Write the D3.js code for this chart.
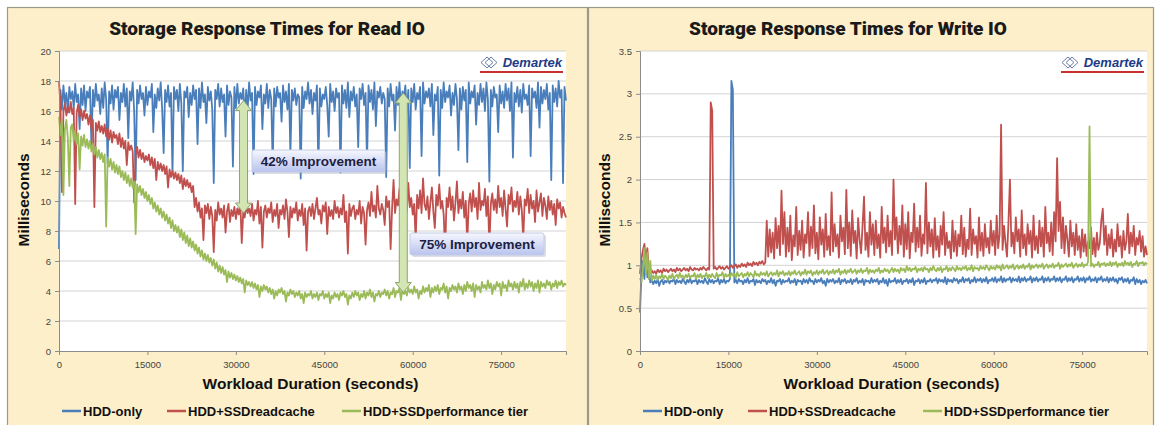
<!DOCTYPE html>
<html>
<head>
<meta charset="utf-8">
<script src="https://cdn.jsdelivr.net/npm/d3@7"></script>
<style>
  body { margin: 0; background: #fff; }
  svg { display: block; font-family: "Liberation Sans", Arial, sans-serif; }
</style>
</head>
<body>
<svg id="chart" width="1159" height="425"></svg>
<script>
// samples are taken every 250 seconds over the 24h run
const sampleStep = 250;
const seriesNames = ["HDD-only", "HDD+SSDreadcache", "HDD+SSDperformance tier"];
const seriesColors = ["#4a7ebb", "#c0504d", "#9bbb59"];
const xTicks = [0, 15000, 30000, 45000, 60000, 75000];
const readTicks = [0, 2, 4, 6, 8, 10, 12, 14, 16, 18, 20];
const writeTicks = [0, 0.5, 1, 1.5, 2, 2.5, 3, 3.5];

// Read IO response times (ms)
const readHdd = [
  6.8,17.4,16.1,17.7,16.5,17.2,15.9,17.6,16.8,17.3,
  16.2,17.8,16.6,17.1,14.8,17.5,16.4,17.7,16.0,17.3,
  16.9,17.6,13.6,17.4,16.3,17.8,16.7,17.1,15.8,17.5,
  16.2,17.9,16.8,12.5,17.3,16.5,17.7,16.1,17.4,16.9,
  17.6,15.4,17.2,16.6,17.8,16.3,17.5,14.2,17.3,16.7,
  17.9,16.0,11.4,17.4,16.5,17.7,16.8,17.2,15.7,17.6,
  16.4,17.3,16.9,17.8,14.6,17.1,16.2,17.5,16.7,17.9,
  16.1,13.2,17.4,16.6,17.7,16.3,17.2,11.8,17.6,16.8,
  17.4,16.0,17.8,16.5,12.0,17.3,16.9,17.6,15.6,17.2,
  16.4,17.7,16.8,17.4,13.8,17.5,16.2,17.9,16.6,17.1,
  15.2,17.6,16.7,17.3,16.1,11.2,17.4,16.8,17.8,16.3,
  17.5,16.6,17.1,14.3,17.7,16.4,17.3,16.9,12.3,17.6,
  16.2,17.8,16.5,17.2,16.8,17.5,15.5,17.4,16.1,17.9,
  16.7,17.2,11.8,17.6,16.4,17.3,16.9,17.7,14.8,17.1,
  16.5,17.8,16.2,17.4,16.8,12.4,17.5,16.3,17.6,16.9,
  17.2,15.3,17.7,16.6,17.3,16.1,17.8,13.1,17.4,16.7,
  17.5,16.4,17.1,16.9,11.5,17.6,16.2,17.3,16.8,17.9,
  16.5,17.4,15.8,17.2,16.7,17.7,12.1,17.5,16.3,17.1,
  16.8,17.6,16.4,14.3,17.8,16.6,17.3,16.0,17.5,16.9,
  17.2,11.9,17.7,16.5,17.4,16.2,17.9,15.6,17.3,16.7,
  17.6,16.3,17.1,13.6,17.5,16.8,17.8,16.4,17.2,12.5,
  17.7,16.6,17.4,16.1,17.9,15.0,17.3,16.9,17.6,16.5,
  17.2,16.8,11.6,17.5,16.3,17.8,16.7,17.1,14.7,17.6,
  16.4,17.9,16.2,17.3,16.9,17.7,15.9,17.4,12.2,17.5,
  16.6,17.8,16.1,17.2,16.8,17.6,13.0,17.9,16.5,17.3,
  16.9,17.5,16.3,17.8,14.4,17.1,16.7,17.6,11.7,17.4,
  16.2,17.9,16.6,17.3,16.9,17.7,15.7,17.2,16.4,17.8,
  16.8,13.4,17.5,16.1,17.6,16.7,17.4,12.6,17.9,16.5,
  17.3,16.9,17.7,15.1,17.2,16.4,17.8,16.6,17.5,16.0,
  17.9,16.8,11.3,17.4,16.3,17.6,16.9,17.1,14.6,17.7,
  16.5,17.3,16.2,17.8,16.7,17.5,16.0,17.9,12.9,17.2,
  16.6,17.6,16.3,17.4,15.9,17.8,16.8,17.1,16.4,17.7,
  13.0,17.5,16.9,17.3,16.2,17.9,14.9,17.6,16.5,17.4,
  16.8,17.8,16.1,17.2,11.4,17.7,16.6,17.5,16.3,18.0,
  16.9,17.4,11.2,17.6,16.7
];
const readCache = [
  18.0,16.4,10.6,16.0,16.5,15.7,16.3,15.9,16.6,15.8,
  16.2,9.8,15.9,16.4,15.6,16.1,15.4,16.0,15.5,15.8,
  15.1,15.7,14.8,15.4,9.6,15.2,14.7,15.3,14.6,15.0,
  14.5,15.1,14.3,14.9,14.1,14.7,13.9,14.6,14.2,14.4,
  13.8,14.5,13.6,14.2,13.5,14.0,12.4,13.9,13.4,13.7,
  13.3,9.9,13.1,13.6,12.9,13.4,12.8,13.2,12.6,13.0,
  12.7,13.1,12.4,12.9,12.2,12.8,11.4,12.6,12.1,12.5,
  12.0,12.4,11.8,12.3,10.9,12.1,11.6,12.0,11.5,11.9,
  11.4,11.8,11.2,11.7,10.8,11.5,11.0,11.4,10.9,11.2,
  10.6,11.0,9.6,10.2,9.3,9.9,8.9,9.5,7.4,9.7,
  9.2,9.8,8.8,9.6,9.0,6.6,9.4,8.7,9.9,9.1,
  9.5,8.9,9.7,7.9,9.3,9.8,8.6,9.4,9.0,9.6,
  8.8,9.5,9.1,9.9,7.2,9.3,8.9,9.7,9.2,9.5,
  9.0,9.8,8.7,9.4,9.1,10.0,8.5,9.6,6.9,9.3,
  9.7,8.9,9.5,9.2,9.9,8.6,9.4,9.0,9.8,8.2,
  9.4,9.1,9.7,8.8,10.1,9.3,7.6,9.6,8.9,9.5,
  9.2,9.9,8.7,9.4,9.0,9.8,8.4,9.5,6.7,9.3,
  9.6,9.0,9.8,8.8,9.5,10.2,9.1,9.4,8.5,9.7,
  9.3,9.9,7.8,9.6,9.0,9.4,8.8,10.0,9.2,9.6,
  8.9,9.5,9.1,10.4,8.6,9.3,6.5,9.8,9.0,9.5,
  9.7,8.8,9.4,9.1,10.0,8.5,9.6,9.2,7.1,9.4,
  9.9,9.0,10.6,9.3,9.7,8.9,11.0,9.5,9.1,9.8,
  9.4,8.4,10.3,9.6,10.0,6.8,9.5,11.4,9.2,10.1,
  9.7,10.8,9.0,9.9,8.9,10.5,9.3,11.2,9.6,10.2,
  9.1,9.8,7.4,10.4,9.5,10.7,9.2,11.5,9.8,9.4,
  10.3,8.8,9.9,10.9,9.3,8.2,10.4,9.7,11.1,9.5,
  10.0,9.1,6.6,10.2,9.6,10.9,9.4,10.3,8.7,9.9,
  11.3,9.2,10.1,9.5,10.6,8.9,10.0,7.2,9.8,10.5,
  9.3,10.7,9.6,10.2,8.8,11.2,9.4,10.0,9.7,10.8,
  9.0,10.3,6.9,9.8,10.5,9.4,10.1,9.2,11.0,9.6,
  10.2,9.0,10.7,9.5,8.3,10.4,9.8,10.9,9.3,10.0,
  9.6,10.6,9.1,10.3,9.4,7.5,10.1,9.7,10.8,9.2,
  10.4,9.5,10.0,8.6,10.7,9.3,9.9,10.5,9.0,10.2,
  9.7,8.8,10.3,9.4,10.0,9.1,9.8,8.4,10.1,9.5,
  9.9,8.9,9.6,9.2,8.9
];
const readTier = [
  15.6,14.4,15.3,10.4,14.8,15.4,14.2,11.0,14.9,15.1,
  14.0,14.7,13.8,14.5,12.1,14.3,13.7,14.4,13.6,14.1,
  13.5,14.0,13.3,13.8,13.1,13.6,12.9,13.4,12.8,13.2,
  12.6,13.1,8.3,12.9,12.3,12.8,12.1,12.6,11.9,12.4,
  11.8,12.3,11.6,12.0,11.4,11.9,11.2,11.7,11.0,11.5,
  10.9,11.3,7.8,11.1,10.6,11.0,10.4,10.8,10.2,10.6,
  10.0,10.4,9.8,10.2,9.5,9.9,9.3,9.7,9.1,9.5,
  8.9,9.3,8.7,9.1,8.5,8.9,8.2,8.7,8.0,8.4,
  7.9,8.3,7.6,8.1,7.4,7.9,7.2,7.7,7.0,7.5,
  6.9,7.3,6.7,7.1,6.5,6.9,6.3,6.7,6.1,6.5,
  6.0,6.4,5.9,6.2,5.7,6.1,5.5,5.9,5.3,5.7,
  5.2,5.6,5.1,5.4,4.6,5.3,4.9,5.2,4.8,5.1,
  4.7,5.0,4.6,4.9,4.5,4.8,3.9,4.7,4.4,4.6,
  4.3,4.6,4.2,4.5,4.1,4.4,3.6,4.3,4.0,4.4,
  4.1,4.3,3.9,4.2,3.8,4.1,3.5,4.0,3.7,4.1,
  3.9,4.2,3.8,4.0,3.3,3.9,3.7,4.1,3.8,4.0,
  3.6,3.9,3.7,4.0,3.5,3.8,3.2,3.9,3.6,3.8,
  3.7,4.0,3.5,3.8,3.6,3.9,3.4,3.8,3.7,4.0,
  3.5,3.8,3.6,3.9,3.2,3.7,3.5,3.9,3.6,3.8,
  3.4,3.9,3.7,4.0,3.6,3.8,3.1,3.7,3.5,3.9,
  3.6,4.0,3.7,3.9,3.4,3.8,3.6,4.0,3.5,3.9,
  3.7,4.1,3.6,3.9,3.3,3.8,3.7,4.0,3.6,3.9,
  3.8,4.1,3.7,4.0,3.5,3.9,3.8,4.2,3.6,4.0,
  3.9,4.2,3.4,4.1,3.8,4.0,3.7,4.2,3.9,4.1,
  3.8,4.3,3.9,4.1,3.5,4.0,3.8,4.3,3.9,4.2,
  4.0,4.4,3.6,4.2,3.9,4.3,4.0,4.4,3.8,4.2,
  4.1,4.5,3.9,4.3,3.5,4.2,4.0,4.4,4.1,4.3,
  3.9,4.5,4.1,4.3,3.8,4.4,4.0,4.6,4.2,4.4,
  4.0,4.5,3.6,4.4,4.1,4.3,3.9,4.6,4.2,4.4,
  4.1,4.7,4.2,4.5,3.8,4.4,4.1,4.6,4.3,4.5,
  3.7,4.6,4.2,4.4,4.0,4.7,4.3,4.5,4.1,4.6,
  4.2,4.5,3.9,4.6,4.3,4.8,4.1,4.5,4.2,4.7,
  4.3,4.6,4.0,4.5,4.2,4.7,3.9,4.6,4.3,4.5,
  4.2,4.7,4.4,4.6,4.1,4.5,4.3,4.7,4.2,4.6,
  4.4,4.7,4.3,4.5,4.4
];

// Write IO response times (ms)
const writeHdd = [
  0.45,0.92,1.05,0.84,1.10,0.86,0.95,0.80,0.83,0.78,
  0.82,0.79,0.84,0.76,0.81,0.83,0.78,0.82,0.80,0.84,
  0.79,0.82,0.81,0.85,0.78,0.83,0.80,0.82,0.79,0.84,
  0.81,0.78,0.83,0.80,0.85,0.79,0.82,0.81,0.84,0.78,
  0.83,0.80,0.82,0.79,0.85,0.81,0.78,0.84,0.80,0.83,
  0.79,0.82,0.81,0.85,0.78,0.83,0.80,0.84,0.79,0.82,
  0.81,0.84,3.15,3.05,0.80,0.83,0.79,0.84,0.81,0.82,
  0.78,0.83,0.80,0.85,0.79,0.82,0.81,0.84,0.77,0.83,
  0.80,0.82,0.79,0.84,0.81,0.83,0.78,0.82,0.80,0.85,
  0.79,0.83,0.76,0.82,0.81,0.84,0.78,0.83,0.80,0.82,
  0.81,0.85,0.79,0.82,0.80,0.84,0.77,0.83,0.81,0.82,
  0.78,0.84,0.80,0.83,0.79,0.85,0.81,0.82,0.78,0.84,
  0.80,0.83,0.81,0.85,0.79,0.82,0.76,0.84,0.80,0.83,
  0.81,0.84,0.79,0.82,0.80,0.85,0.78,0.83,0.81,0.84,
  0.79,0.82,0.80,0.84,0.78,0.83,0.81,0.85,0.79,0.82,
  0.80,0.84,0.77,0.83,0.81,0.82,0.79,0.85,0.80,0.83,
  0.81,0.84,0.78,0.82,0.80,0.85,0.79,0.83,0.76,0.84,
  0.80,0.82,0.81,0.85,0.79,0.83,0.80,0.84,0.78,0.82,
  0.81,0.84,0.79,0.83,0.80,0.85,0.77,0.82,0.81,0.84,
  0.79,0.83,0.80,0.85,0.78,0.82,0.81,0.84,0.80,0.83,
  0.82,0.85,0.79,0.84,0.81,0.83,0.80,0.86,0.78,0.84,
  0.81,0.83,0.80,0.85,0.82,0.84,0.79,0.83,0.81,0.86,
  0.80,0.84,0.82,0.85,0.79,0.83,0.81,0.86,0.80,0.84,
  0.82,0.85,0.80,0.84,0.81,0.86,0.79,0.83,0.82,0.85,
  0.81,0.86,0.80,0.84,0.82,0.87,0.80,0.85,0.81,0.84,
  0.83,0.86,0.80,0.85,0.82,0.84,0.81,0.87,0.80,0.85,
  0.82,0.86,0.81,0.84,0.83,0.87,0.80,0.85,0.82,0.86,
  0.81,0.84,0.83,0.87,0.80,0.85,0.82,0.86,0.81,0.84,
  0.83,0.87,0.81,0.85,0.82,0.86,0.80,0.84,0.83,0.87,
  0.81,0.85,0.82,0.86,0.80,0.84,0.83,0.87,0.81,0.85,
  0.82,0.86,0.80,0.85,0.83,0.87,0.81,0.84,0.82,0.86,
  0.80,0.85,0.83,0.87,0.81,0.84,0.82,0.86,0.80,0.85,
  0.82,0.86,0.81,0.84,0.79,0.85,0.83,0.86,0.80,0.84,
  0.81,0.85,0.79,0.83,0.82,0.86,0.78,0.84,0.80,0.83,
  0.78,0.82,0.80,0.83,0.79
];
const writeCache = [
  0.90,1.08,1.18,1.25,1.06,1.20,0.95,0.92,0.94,0.91,
  0.93,0.90,0.95,0.92,0.94,0.91,0.96,0.93,0.95,0.92,
  0.94,0.96,0.93,0.95,0.92,0.97,0.94,0.96,0.93,0.95,
  0.97,0.94,0.96,0.93,0.98,0.95,0.94,0.97,0.95,0.96,
  0.94,0.97,0.95,0.98,0.96,0.94,0.97,0.95,2.90,2.80,
  0.96,0.98,0.95,0.97,0.99,0.96,0.98,0.95,0.97,0.99,
  0.96,0.98,1.00,0.97,0.99,1.01,0.97,1.00,0.98,1.02,
  0.99,1.01,0.98,1.03,1.00,1.02,0.99,1.04,1.01,1.03,
  1.00,1.04,1.02,1.05,1.01,1.03,1.52,1.10,1.42,1.15,
  1.38,1.08,1.55,1.20,1.46,1.12,1.87,1.25,1.62,1.10,
  1.44,1.16,1.58,1.06,1.35,1.22,1.68,1.12,1.40,1.18,
  1.52,1.09,1.36,1.26,1.62,1.11,1.45,1.20,1.70,1.14,
  1.38,1.07,1.56,1.24,1.42,1.10,1.60,1.18,1.34,1.12,
  1.85,1.16,1.48,1.22,1.36,1.09,1.58,1.28,1.44,1.13,
  1.88,1.20,1.50,1.11,1.64,1.26,1.40,1.08,1.55,1.30,
  1.14,1.46,1.80,1.18,1.38,1.10,1.62,1.24,1.48,1.12,
  1.52,1.20,1.36,1.09,1.68,1.26,1.44,1.15,1.58,1.22,
  1.40,1.12,2.00,1.30,1.56,1.14,1.46,1.24,1.70,1.10,
  1.48,1.19,1.62,1.08,1.38,1.27,1.72,1.16,1.44,1.21,
  1.58,1.11,1.36,1.25,1.96,1.14,1.50,1.22,1.42,1.09,
  1.55,1.18,1.34,1.10,1.46,1.24,1.62,1.12,1.38,1.20,
  1.28,1.08,1.52,1.16,1.40,1.11,1.36,1.22,1.58,1.13,
  1.44,1.10,1.30,1.19,1.66,1.12,1.42,1.25,1.34,1.09,
  1.56,1.17,1.38,1.11,1.48,1.21,1.32,1.14,1.52,1.23,
  1.40,1.12,1.58,1.20,1.36,2.64,1.18,1.46,1.26,1.10,
  1.50,2.00,1.22,1.38,1.14,1.56,1.28,1.42,1.10,1.64,
  1.20,1.36,1.12,1.48,1.25,1.40,1.09,1.58,1.18,1.34,
  1.14,1.52,1.22,1.44,1.10,1.68,1.26,1.38,1.16,1.50,
  1.12,1.62,1.28,2.25,1.40,1.74,1.20,1.56,1.14,1.46,
  1.30,1.10,1.52,1.22,1.38,1.12,1.48,1.18,1.34,1.09,
  1.42,1.16,1.36,1.11,1.28,1.20,1.44,1.13,1.32,1.10,
  1.38,1.18,1.26,1.52,1.66,1.24,1.46,1.12,1.36,1.20,
  1.42,1.10,1.30,1.16,1.48,1.22,1.34,1.09,1.40,1.18,
  1.28,1.60,1.14,1.38,1.22,1.46,1.12,1.32,1.24,1.40,
  1.16,1.34,1.10,1.22,1.12
];
const writeTier = [
  0.85,0.80,0.96,1.20,0.90,1.15,0.84,1.05,0.82,0.88,
  0.84,0.89,0.83,0.87,0.85,0.90,0.84,0.88,0.86,0.83,
  0.88,0.85,0.90,0.84,0.87,0.89,0.85,0.91,0.86,0.88,
  0.84,0.89,0.86,0.90,0.85,0.88,0.87,0.91,0.84,0.89,
  0.86,0.90,0.85,0.88,0.87,0.91,0.85,0.89,0.86,0.90,
  0.87,0.85,0.91,0.86,0.89,0.88,0.92,0.85,0.90,0.87,
  0.89,0.86,0.91,0.88,0.90,0.85,0.92,0.87,0.89,0.91,
  0.86,0.90,0.88,0.92,0.87,0.91,0.89,0.86,0.93,0.88,
  0.90,0.87,0.92,0.89,0.91,0.88,0.93,0.87,0.90,0.92,
  0.88,0.91,0.89,0.94,0.87,0.92,0.90,0.93,0.88,0.91,
  0.89,0.93,0.88,0.92,0.90,0.94,0.89,0.91,0.93,0.88,
  0.92,0.90,0.95,0.89,0.93,0.91,0.94,0.88,0.92,0.90,
  0.94,0.89,0.93,0.91,0.95,0.90,0.92,0.94,0.89,0.93,
  0.91,0.95,0.90,0.94,0.92,0.96,0.89,0.93,0.91,0.95,
  0.90,0.94,0.92,0.96,0.91,0.93,0.95,0.90,0.94,0.92,
  0.96,0.91,0.94,0.93,0.97,0.90,0.95,0.92,0.94,0.91,
  0.95,0.93,0.97,0.91,0.94,0.92,0.96,0.93,0.95,0.91,
  0.94,0.97,0.92,0.96,0.93,0.95,0.91,0.97,0.94,0.96,
  0.92,0.99,0.94,0.97,0.93,0.96,0.95,0.98,0.92,0.96,
  0.94,0.97,0.93,0.98,0.95,0.96,0.92,0.97,0.94,0.99,
  0.95,0.93,0.97,0.94,0.98,0.92,0.96,0.95,0.99,0.93,
  0.97,0.94,0.98,0.96,0.93,0.99,0.95,0.97,0.94,0.98,
  0.96,0.99,0.94,0.97,0.95,1.00,0.93,0.98,0.96,0.97,
  0.94,0.99,0.96,0.98,0.95,1.00,0.97,0.94,0.99,0.96,
  0.98,0.95,1.00,0.97,0.99,0.94,1.01,0.96,0.98,1.00,
  0.96,0.99,0.97,1.01,0.95,0.98,1.00,0.96,0.99,0.97,
  1.01,0.96,0.99,0.98,1.02,0.95,1.00,0.97,0.99,1.01,
  0.97,1.00,0.98,1.02,0.96,0.99,1.01,0.97,1.00,0.98,
  1.02,0.97,1.00,0.99,1.03,0.96,1.01,0.98,1.00,1.02,
  0.98,1.01,0.99,1.03,0.97,1.00,1.02,0.98,1.01,0.99,
  1.03,0.98,1.01,1.00,1.04,2.62,0.99,1.02,0.98,1.01,
  1.00,1.04,0.98,1.02,1.01,1.03,0.99,1.02,1.00,1.04,
  0.99,1.03,1.01,1.04,0.98,1.02,1.00,1.03,0.99,1.05,
  1.01,1.03,1.00,1.04,0.98,1.02,1.01,1.05,0.99,1.03,
  1.02,1.04,1.00,1.03,1.01
];

// improvement callouts on the read chart: [x seconds, top ms, bottom ms]
const readArrows = [[31300, 16.7, 9.2], [58400, 17.2, 3.9]];
const readCallouts = ["42% Improvement", "75% Improvement"];

const svg = d3.select("#chart");

const defs = svg.append("defs");
const grad = defs.append("linearGradient").attr("id", "boxGrad")
  .attr("x1", 0).attr("y1", 0).attr("x2", 0).attr("y2", 1);
grad.append("stop").attr("offset", "0%").attr("stop-color", "#f6f7fe");
grad.append("stop").attr("offset", "100%").attr("stop-color", "#b9c3ee");

function drawPanel(px, pw, title, series, ticks, yMax) {
  const g = svg.append("g").attr("transform", `translate(${px},0)`);
  // panel background
  g.append("rect").attr("x", 0.5).attr("y", 7.5).attr("width", pw).attr("height", 430)
    .attr("fill", "#fdefc9").attr("stroke", "#9a9a8a").attr("stroke-width", 1.2);

  const left = 52, right = 559, top = 51, bottom = 351;
  const x = d3.scaleLinear().domain([0, (series[0].length - 1) * sampleStep]).range([left, right]);
  const y = d3.scaleLinear().domain([0, yMax]).range([bottom, top]);

  g.append("rect").attr("x", left).attr("y", top).attr("width", right - left).attr("height", bottom - top)
    .attr("fill", "#fff");

  // gridlines
  g.selectAll(".grid").data(ticks.filter(t => t > 0)).enter().append("line")
    .attr("x1", left).attr("x2", right)
    .attr("y1", d => y(d)).attr("y2", d => y(d))
    .attr("stroke", "#d3d3d3").attr("stroke-width", 1);

  // lines
  series.forEach((vals, i) => {
    g.append("path")
      .datum(vals)
      .attr("fill", "none")
      .attr("stroke", seriesColors[i])
      .attr("stroke-width", 1.8)
      .attr("stroke-linejoin", "round")
      .attr("d", d3.line().x((d, j) => x(j * sampleStep)).y(d => y(d)));
  });

  // axes
  const yAxis = g.append("g").attr("transform", `translate(${left},0)`)
    .call(d3.axisLeft(y).tickValues(ticks).tickSize(4).tickFormat(d => String(d)));
  const xAxis = g.append("g").attr("transform", `translate(0,${bottom})`)
    .call(d3.axisBottom(x).tickValues(xTicks).tickSize(4).tickFormat(d => String(d)));
  [yAxis, xAxis].forEach(a => {
    a.select(".domain").attr("stroke", "#8c8c8c");
    a.selectAll(".tick line").attr("stroke", "#8c8c8c");
    a.selectAll("text").attr("fill", "#444").attr("font-size", 9.5);
  });
  yAxis.selectAll("text").attr("x", -8);
  xAxis.selectAll("text").attr("y", 10);

  // titles
  g.append("text").attr("x", 260).attr("y", 35).attr("text-anchor", "middle")
    .attr("font-family", "Roboto, sans-serif").attr("font-weight", 900).attr("font-size", 19)
    .attr("fill", "#1a1a1a").text(title);
  g.append("text").attr("transform", `translate(22,200) rotate(-90)`)
    .attr("text-anchor", "middle").attr("font-weight", 700).attr("font-size", 15.5)
    .attr("fill", "#111").text("Milliseconds");
  g.append("text").attr("x", (left + right) / 2 - 2).attr("y", 389).attr("text-anchor", "middle")
    .attr("font-weight", 700).attr("font-size", 15.5).attr("fill", "#111")
    .text("Workload Duration (seconds)");

  // legend
  const legendX = [76, 181, 356];
  seriesNames.forEach((name, i) => {
    g.append("line").attr("x1", legendX[i] - 21).attr("x2", legendX[i] - 2)
      .attr("y1", 411).attr("y2", 411).attr("stroke", seriesColors[i]).attr("stroke-width", 2.5);
    g.append("text").attr("x", legendX[i]).attr("y", 416)
      .attr("font-weight", 700).attr("font-size", 13).attr("fill", "#111").text(name);
  });

  // Demartek mark
  const logo = g.append("g").attr("transform", `translate(${right - 4},67)`);
  logo.append("text").attr("text-anchor", "end").attr("font-style", "italic")
    .attr("font-weight", 700).attr("font-size", 13).attr("fill", "#1d3b86").text("Demartek");
  logo.append("line").attr("x1", -82).attr("x2", 1).attr("y1", 5).attr("y2", 5)
    .attr("stroke", "#c8312f").attr("stroke-width", 2);
  logo.append("path").attr("d", "M-75,-10 L-69,-4.5 L-75,1 L-81,-4.5 Z M-71,-10 L-65,-4.5 L-71,1 L-77,-4.5 Z")
    .attr("fill", "none").attr("stroke", "#6a7aa0").attr("stroke-width", 1);

  return { g, x, y };
}

const read = drawPanel(7, 580, "Storage Response Times for Read IO",
  [readHdd, readCache, readTier], readTicks, 20);
drawPanel(588, 565, "Storage Response Times for Write IO",
  [writeHdd, writeCache, writeTier], writeTicks, 3.5);

// arrows and callout boxes on the read chart
readArrows.forEach(([sx, top, bot]) => {
  const cx = read.x(sx), y1 = read.y(top), y2 = read.y(bot);
  const sw = 4, hw = 8, hl = 10;
  const p = [
    [cx, y1], [cx + hw, y1 + hl], [cx + sw, y1 + hl], [cx + sw, y2 - hl], [cx + hw, y2 - hl],
    [cx, y2], [cx - hw, y2 - hl], [cx - sw, y2 - hl], [cx - sw, y1 + hl], [cx - hw, y1 + hl]
  ];
  read.g.append("path").attr("d", "M" + p.map(q => q.join(",")).join("L") + "Z")
    .attr("fill", "#d3e5b2").attr("stroke", "#8ea56a").attr("stroke-width", 1);
});

const boxes = [[245, 150, 133, 22], [403, 233, 134, 22]];
readCallouts.forEach((label, i) => {
  const [bx, by, bw, bh] = boxes[i];
  read.g.append("rect").attr("x", bx + 2).attr("y", by + 2).attr("width", bw).attr("height", bh)
    .attr("rx", 2).attr("fill", "#9aa0b8").attr("opacity", 0.35);
  read.g.append("rect").attr("x", bx).attr("y", by).attr("width", bw).attr("height", bh)
    .attr("rx", 2).attr("fill", "url(#boxGrad)").attr("stroke", "#c4cbe6");
  read.g.append("text").attr("x", bx + bw / 2).attr("y", by + bh / 2 + 5)
    .attr("text-anchor", "middle").attr("font-weight", 700).attr("font-size", 13.5)
    .attr("fill", "#1c2143").text(label);
});
</script>
</body>
</html>
